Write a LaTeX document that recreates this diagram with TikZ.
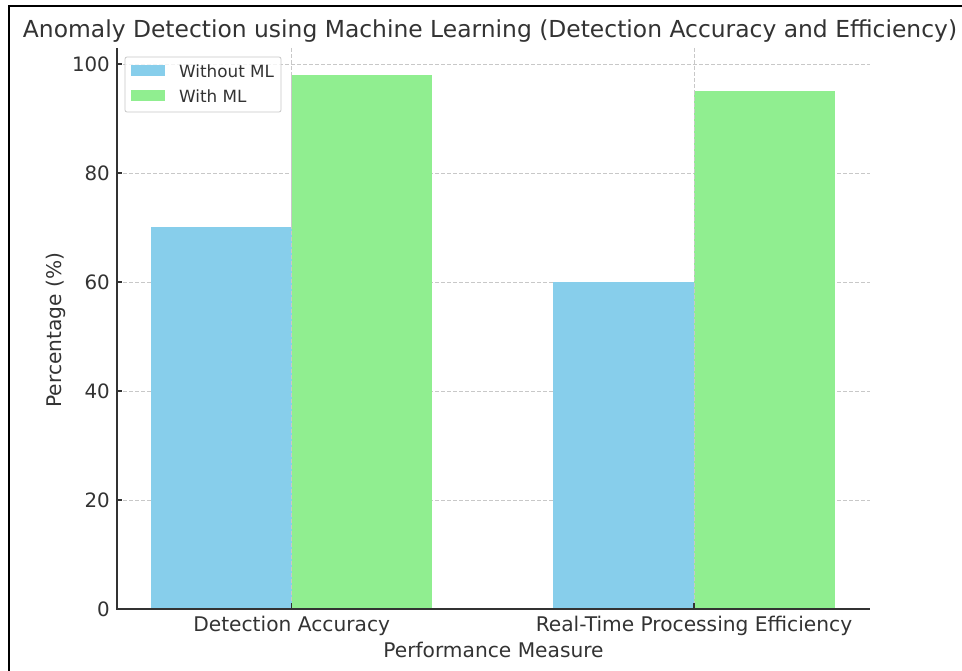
\documentclass[tikz,border=0pt]{standalone}
\usepackage{fontspec}
\setmainfont{DejaVu Sans}
\definecolor{skyb}{HTML}{87CEEB}
\definecolor{lgreen}{HTML}{90EE90}
\definecolor{txt}{HTML}{333333}
\definecolor{gridc}{HTML}{C8C8C8}
\tikzset{
  gridline/.style={gridc, line width=0.8pt, dash pattern=on 4pt off 2pt},
  spine/.style={txt, line width=1.4pt},
  ticklab/.style={text=txt, font=\fontsize{19.8}{22}\selectfont, inner sep=0pt},
  catlab/.style={text=txt, font=\fontsize{20.2}{23}\selectfont, inner sep=0pt},
  legtext/.style={text=txt, font=\fontsize{16.8}{19}\selectfont, inner sep=0pt, anchor=west},
}
\begin{document}
\begin{tikzpicture}[x=1pt,y=-1pt]
\useasboundingbox (0,0) rectangle (962,671);
\fill[white] (0,0) rectangle (962,671);
% frame
\draw[black, line width=2pt] (9,671) -- (9,6.5) -- (962,6.5);
% title
\node[text=txt, font=\fontsize{23.4}{26}\selectfont, anchor=base, inner sep=0pt] (title) at (490,38) {Anomaly Detection using Machine Learning (Detection Accuracy and Efficiency)};
% horizontal grid
\foreach \yy in {64,173,282,391,500} {
  \draw[gridline] (117,\yy) -- (870,\yy);
}
% vertical grid
\draw[gridline] (291.7,48) -- (291.7,609);
\draw[gridline] (694,48) -- (694,609);
% bars
\fill[skyb] (151,227.5) rectangle (291.7,609);
\fill[lgreen] (291.7,74.9) rectangle (432.4,609);
\fill[skyb] (553.3,282) rectangle (694,609);
\fill[lgreen] (694,91.25) rectangle (834.7,609);
\draw[gridc, line width=0.5pt, dash pattern=on 4pt off 2pt] (291.7,74.9) -- (291.7,609);
\draw[gridc, line width=0.5pt, dash pattern=on 4pt off 2pt] (694,91.25) -- (694,609);
% spines
\draw[spine] (117,48) -- (117,609) -- (870,609);
% y ticks (inward)
\foreach \yy/\lab in {64/100,173/80,282/60,391/40,500/20,609/0} {
  \draw[spine, line width=1.2pt] (117,\yy) -- (122,\yy);
  \node[ticklab, anchor=east] at (110,\yy) {\lab};
}
% x ticks
\draw[spine, line width=1.2pt] (291.7,609) -- (291.7,603);
\draw[spine, line width=1.2pt] (694,609) -- (694,603);
\node[catlab, anchor=base] (xl1) at (291.7,631) {Detection Accuracy};
\node[catlab, anchor=base] (xl2) at (694,631) {Real-Time Processing Efficiency};
% axis labels
\node[catlab, anchor=base] (xlab) at (493.5,657) {Performance Measure};
\node[catlab, anchor=base, rotate=90] (ylab) at (61,330) {Percentage (\%)};
% legend
\draw[gridc, fill=white, fill opacity=0.8, line width=0.8pt, rounded corners=2pt] (125,57) rectangle (281,112);
\fill[skyb] (131,65) rectangle (165,76);
\fill[lgreen] (131,90) rectangle (165,101);
\node[legtext] (leg1) at (179,71) {Without ML};
\node[legtext] (leg2) at (179,96) {With ML};
\end{tikzpicture}
\end{document}
